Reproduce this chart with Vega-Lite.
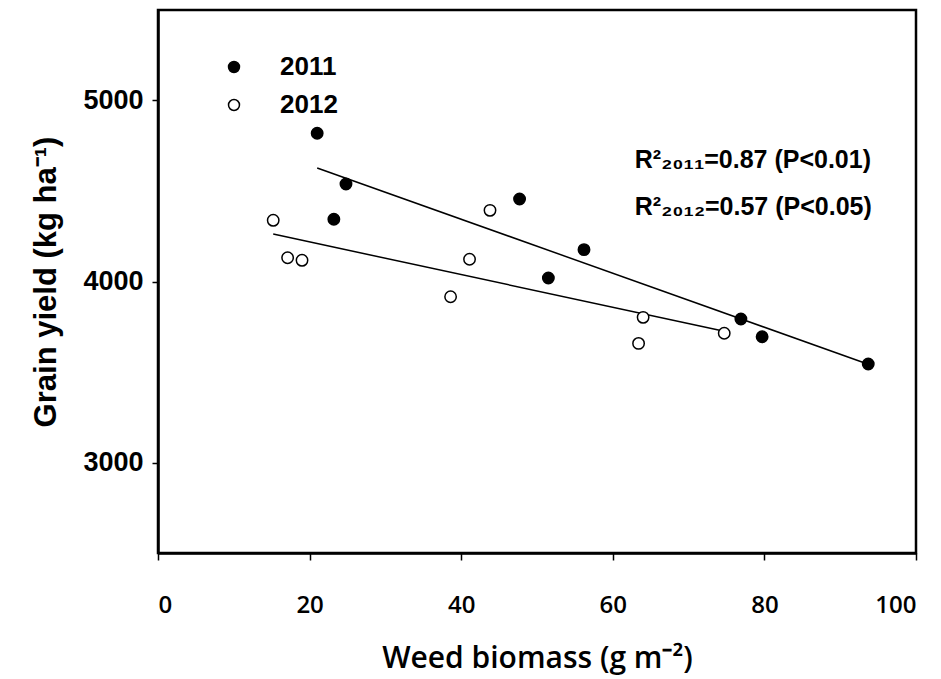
{
  "$schema": "https://vega.github.io/schema/vega-lite/v6.json",
  "width": 758,
  "height": 543,
  "autosize": "none",
  "padding": {"left": 158, "top": 10, "right": 25, "bottom": 126},
  "background": "white",
  "config": {
    "view": {"stroke": "black", "strokeWidth": 2.5},
    "axis": {
      "grid": false,
      "domainColor": "black",
      "domainWidth": 2.5,
      "tickColor": "black",
      "tickWidth": 1.5,
      "labelColor": "black",
      "titleColor": "black"
    }
  },
  "data": {
    "values": [
      {"year": "2011", "biomass": 21.0, "yield": 4819},
      {"year": "2011", "biomass": 24.8, "yield": 4539},
      {"year": "2011", "biomass": 23.2, "yield": 4344},
      {"year": "2011", "biomass": 47.7, "yield": 4456},
      {"year": "2011", "biomass": 56.2, "yield": 4176},
      {"year": "2011", "biomass": 51.5, "yield": 4019},
      {"year": "2011", "biomass": 76.9, "yield": 3793},
      {"year": "2011", "biomass": 79.7, "yield": 3695},
      {"year": "2011", "biomass": 93.7, "yield": 3544},
      {"year": "2012", "biomass": 15.2, "yield": 4338},
      {"year": "2012", "biomass": 17.1, "yield": 4131},
      {"year": "2012", "biomass": 19.0, "yield": 4117},
      {"year": "2012", "biomass": 43.8, "yield": 4393},
      {"year": "2012", "biomass": 41.1, "yield": 4123},
      {"year": "2012", "biomass": 38.6, "yield": 3916},
      {"year": "2012", "biomass": 64.0, "yield": 3802},
      {"year": "2012", "biomass": 74.7, "yield": 3714},
      {"year": "2012", "biomass": 63.4, "yield": 3658}
    ]
  },
  "layer": [
    {
      "transform": [{"regression": "yield", "on": "biomass", "groupby": ["year"]}],
      "mark": {"type": "line", "color": "black", "strokeWidth": 1.5},
      "encoding": {
        "x": {"field": "biomass", "type": "quantitative"},
        "y": {"field": "yield", "type": "quantitative"},
        "detail": {"field": "year"}
      }
    },
    {
      "mark": {"type": "point", "filled": true, "stroke": "black", "strokeWidth": 1.5, "size": 130, "opacity": 1},
      "encoding": {
        "x": {
          "field": "biomass",
          "type": "quantitative",
          "scale": {"domain": [0, 100], "nice": false, "zero": false},
          "axis": {
            "values": [0, 20, 40, 60, 80, 100],
            "tickSize": 7,
            "labelPadding": 33,
            "labelFont": "Open Sans",
            "labelFontSize": 24,
            "labelFontWeight": 600,
            "title": "Weed biomass (g m⁻²)",
            "titleFont": "Open Sans",
            "titleFontSize": 30,
            "titleFontWeight": 600,
            "titlePadding": 26
          }
        },
        "y": {
          "field": "yield",
          "type": "quantitative",
          "scale": {"domain": [2500, 5500], "nice": false, "zero": false},
          "axis": {
            "values": [3000, 4000, 5000],
            "format": "d",
            "tickSize": 6,
            "labelPadding": 9,
            "labelFont": "Liberation Sans",
            "labelFontSize": 27,
            "labelFontWeight": "bold",
            "title": "Grain yield (kg ha⁻¹)",
            "titleFont": "Liberation Sans",
            "titleFontSize": 31,
            "titleFontWeight": "bold",
            "titlePadding": 20
          }
        },
        "fill": {
          "field": "year",
          "type": "nominal",
          "scale": {"domain": ["2011", "2012"], "range": ["black", "white"]},
          "legend": {
            "orient": "none",
            "legendX": 63,
            "legendY": 44,
            "title": null,
            "symbolType": "circle",
            "symbolSize": 120,
            "symbolStrokeColor": "black",
            "symbolStrokeWidth": 1.5,
            "labelFont": "Liberation Sans",
            "labelFontSize": 26,
            "labelFontWeight": "bold",
            "labelColor": "black",
            "labelOffset": 33,
            "rowPadding": 12
          }
        }
      }
    },
    {
      "data": {"values": [{}]},
      "mark": {
        "type": "text",
        "align": "left",
        "baseline": "middle",
        "font": "Liberation Sans",
        "fontSize": 25,
        "fontWeight": "bold",
        "color": "black",
        "lineHeight": 47
      },
      "encoding": {
        "x": {"datum": 62.9},
        "y": {"datum": 4671},
        "text": {"value": ["R²₂₀₁₁=0.87 (P<0.01)", "R²₂₀₁₂=0.57 (P<0.05)"]}
      }
    }
  ]
}
